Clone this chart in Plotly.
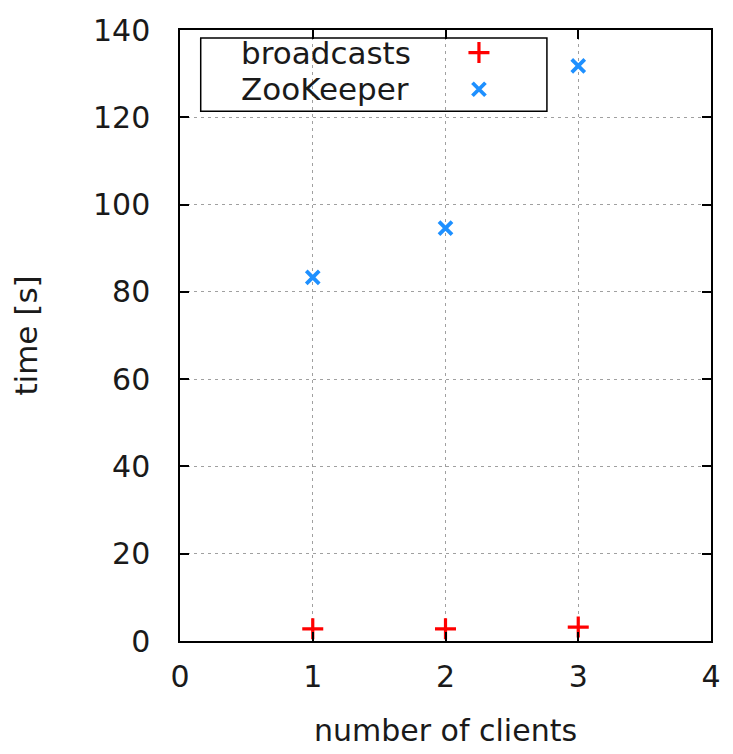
import plotly.graph_objects as go

clients = [1, 2, 3]
broadcasts = [2.8, 2.8, 3.2]
zookeeper = [83.3, 94.6, 131.8]
series_names = ["broadcasts", "ZooKeeper"]
x_ticks = [0, 1, 2, 3, 4]
y_ticks = [0, 20, 40, 60, 80, 100, 120, 140]

RED = "#ff0000"
BLUE = "#1e90ff"
FONT = "DejaVu Sans"
TXT = "#1a1a1a"

fig = go.Figure()
fig.add_trace(go.Scatter(
    x=clients, y=broadcasts, mode="markers", name=series_names[0],
    marker=dict(symbol="cross-thin", size=15, color=RED,
                line=dict(color=RED, width=3.2)),
    showlegend=False, cliponaxis=False))
fig.add_trace(go.Scatter(
    x=clients, y=zookeeper, mode="markers", name=series_names[1],
    marker=dict(symbol="x-thin", size=13, color=BLUE,
                line=dict(color=BLUE, width=3.8)),
    showlegend=False, cliponaxis=False))

# gnuplot-style key: text on the left, symbol on the right, drawn in an overlay axis
key_x0, key_x1, key_y0, key_y1 = 0.039, 0.691, 0.867, 0.987
key_rows = [0.963, 0.903]
key_sym_x = 0.563
key_txt_x = 0.112
fig.add_shape(type="rect", xref="paper", yref="paper",
              x0=key_x0, x1=key_x1, y0=key_y0, y1=key_y1,
              line=dict(color="black", width=1.5), fillcolor="white", layer="between")
fig.add_trace(go.Scatter(
    x=[key_sym_x], y=[key_rows[0]], xaxis="x2", yaxis="y2", mode="markers",
    marker=dict(symbol="cross-thin", size=15, color=RED, line=dict(color=RED, width=3.2)),
    showlegend=False, hoverinfo="skip"))
fig.add_trace(go.Scatter(
    x=[key_sym_x], y=[key_rows[1]], xaxis="x2", yaxis="y2", mode="markers",
    marker=dict(symbol="x-thin", size=13, color=BLUE, line=dict(color=BLUE, width=3.8)),
    showlegend=False, hoverinfo="skip"))
for name, yy in zip(series_names, key_rows):
    fig.add_annotation(x=key_txt_x, y=yy, xref="paper", yref="paper", text=name,
                       showarrow=False, xanchor="left", yanchor="middle",
                       font=dict(family=FONT, size=31, color=TXT))

axis_common = dict(
    showline=True, linecolor="black", linewidth=1.5, mirror="ticks",
    ticks="inside", ticklen=9, tickwidth=1.5, tickcolor="black",
    showgrid=True, gridcolor="#a0a0a0", gridwidth=1.3, griddash="3px,4px",
    zeroline=False, tickfont=dict(family=FONT, size=30, color=TXT),
    ticklabeloverflow="allow",
)
fig.update_layout(
    width=733, height=754, plot_bgcolor="white", paper_bgcolor="white",
    margin=dict(l=180, r=15, t=29, b=107),
    xaxis=dict(range=[0, 4], tickvals=x_ticks, ticklabelstandoff=8,
               title=dict(text="number of clients", standoff=27,
                          font=dict(family=FONT, size=30, color=TXT)),
               **axis_common),
    yaxis=dict(range=[0, 140], tickvals=y_ticks, ticklabelstandoff=22,
               title=dict(text="time [s]", standoff=46,
                          font=dict(family=FONT, size=31, color=TXT)),
               **axis_common),
    xaxis2=dict(overlaying="x", range=[0, 1], visible=False, fixedrange=True),
    yaxis2=dict(overlaying="y", range=[0, 1], visible=False, fixedrange=True),
    showlegend=False,
)

fig.write_html(
    "out.html",
    config={"displayModeBar": False},
    post_script=(
        "document.documentElement.style.overflow='hidden';"
        "document.body.style.margin='0';"
        "document.body.style.overflow='hidden';"
        "var gd=document.getElementById('{plot_id}');"
        "gd.style.overflow='hidden';"
    ),
)
